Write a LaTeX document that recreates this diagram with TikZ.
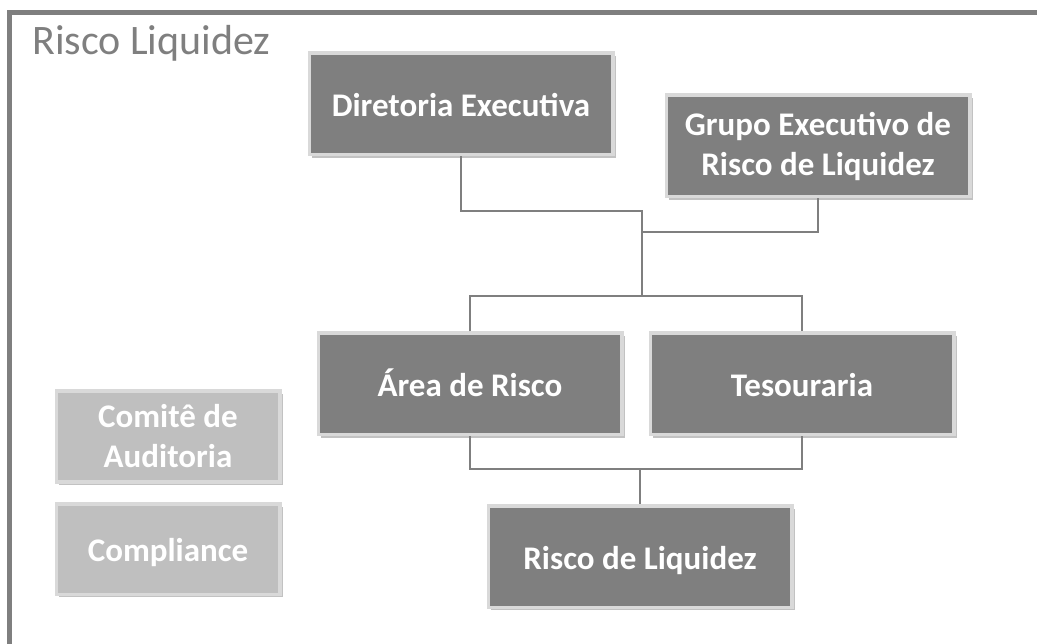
\documentclass[tikz,border=0pt]{standalone}
\usepackage{fontspec}
\setmainfont{Carlito}
\usetikzlibrary{positioning, shadows}
\definecolor{caixa}{HTML}{7F7F7F}
\definecolor{borda}{HTML}{D9D9D9}
\definecolor{clara}{HTML}{BFBFBF}
\tikzset{
box2/.style={draw=borda, line width=3.5pt, fill=caixa, text=white, % dark boxes of the chart
  font=\fontsize{33}{40}\selectfont\bfseries, align=center,
  minimum width=303.5pt, minimum height=101.5pt, inner sep=0pt,
  drop shadow={shadow xshift=3pt, shadow yshift=-3pt, fill=black!40, opacity=0.6}},
box/.style={box2, text height=27pt, text depth=2pt}, % one line of text, same height in every box
side/.style={fill=clara, minimum width=223.5pt, minimum height=90.5pt}, % light boxes on the left
conn/.style={draw=caixa, line width=1.4pt}, % the lines joining the boxes
}

\begin{document}
\begin{tikzpicture}[x=1pt, y=1pt]
  \useasboundingbox (0,0) rectangle (1037,-644);
  \clip (0,0) rectangle (1037,-644);
  \draw[caixa, line width=5pt] (9.5,-13) rectangle (1100,-700);
  \node[anchor=base west, text=caixa, font=\fontsize{42}{48}\selectfont, inner sep=0pt] (titulo) at (32,-55) {Risco Liquidez};

  % Boxes
  \node[box] (dir) at (461,-104) {Diretoria Executiva};
  \node[box2] (grupo) at (818,-146) {Grupo Executivo de\\Risco de Liquidez};
  \node[box] (area) at (470,-384) {Área de Risco};
  \node[box, right of=area, node distance=332pt] (tes) {Tesouraria};
  \node[box] (risco) at (640,-556.5) {Risco de Liquidez};
  \node[box2, side] (comite) at (168,-436.5) {Comitê de\\Auditoria};
  \node[box, side, below of=comite, node distance=112.5pt] (compl) {Compliance};

  % Links
  \coordinate (meio) at (642,-211);
  \coordinate (meio2) at (642,-232);
  \coordinate (barra) at (642,-296);
  \coordinate (base) at (640,-469);
  \draw[conn] (dir) |- (meio) -- (barra);
  \draw[conn] (grupo) |- (meio2);
  \draw[conn] (area) |- (barra) -| (tes);
  \draw[conn] (area) |- (base) -| (tes);
  \draw[conn] (base) -- (risco);
\end{tikzpicture}
\end{document}
